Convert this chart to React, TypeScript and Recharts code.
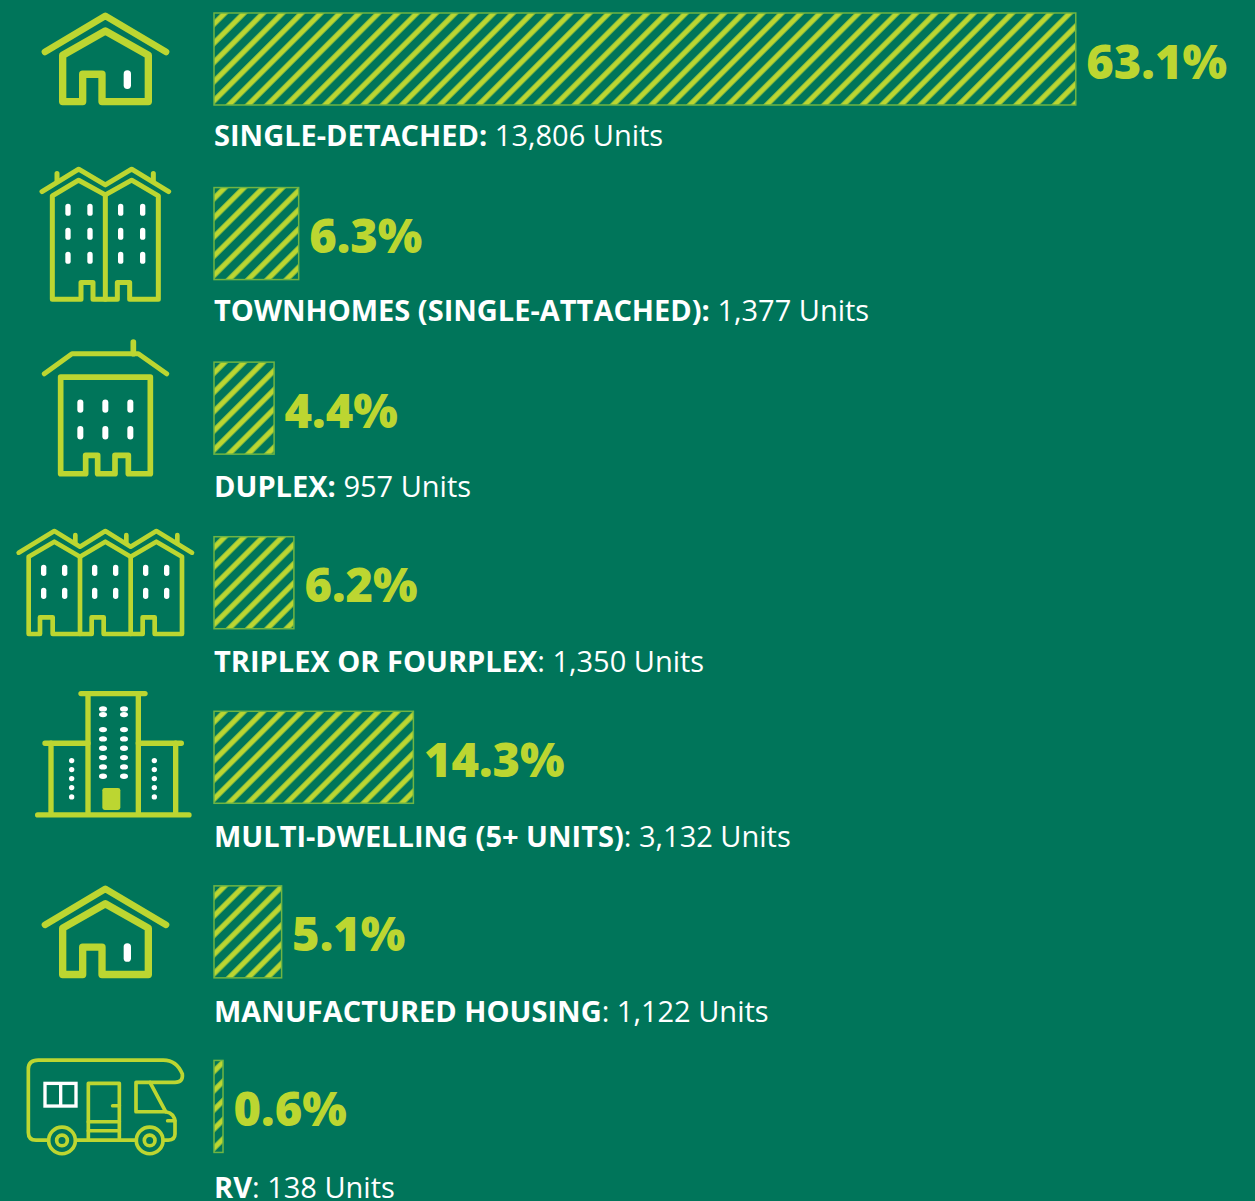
import { Bar, BarChart, LabelList, XAxis, YAxis } from "recharts";

const BG = "#00755a";
const LIME = "#bcd631";

const categories = [
  "SINGLE-DETACHED:",
  "TOWNHOMES (SINGLE-ATTACHED):",
  "DUPLEX:",
  "TRIPLEX OR FOURPLEX",
  "MULTI-DWELLING (5+ UNITS)",
  "MANUFACTURED HOUSING",
  "RV",
];
const unitTexts = [
  " 13,806 Units",
  " 1,377 Units",
  " 957 Units",
  ": 1,350 Units",
  ": 3,132 Units",
  ": 1,122 Units",
  ": 138 Units",
];
// printed percentages
const shares = ["63.1%", "6.3%", "4.4%", "6.2%", "14.3%", "5.1%", "0.6%"];
// drawn bar lengths, a bit off from the printed numbers in the original
const barLengths = [63.1, 6.2, 4.4, 5.85, 14.6, 4.95, 0.66];

const rows = categories.map((category, i) => ({
  category,
  units: unitTexts[i],
  share: shares[i],
  length: barLengths[i],
}));

const iconFont = { stroke: LIME, fill: "none", strokeLinecap: "round", strokeLinejoin: "round" } as const;

function Windows({ xs, ys, w, h }: { xs: number[]; ys: number[]; w: number; h: number }) {
  return (
    <g fill="#fff">
      {xs.flatMap((x) =>
        ys.map((y) => <rect key={`${x}-${y}`} x={x - w / 2} y={y} width={w} height={h} rx={w / 2} />)
      )}
    </g>
  );
}

// icons are drawn in 3x units, centred on the row through the tick position
function HouseIcon() {
  return (
    <g transform="translate(0,-177)">
      <g {...iconFont}>
        <path d="M135,155 L316,47 L498,155" strokeWidth={20} />
        <path
          d="M188,165 L316,92 L445,165 L445,304 L306,304 L306,222 L248,222 L248,304 L188,304 Z"
          strokeWidth={22}
        />
      </g>
      <Windows xs={[382]} ys={[210]} w={22} h={56} />
    </g>
  );
}

function TownhomeIcon() {
  return (
    <g transform="translate(0,-699)">
      <g {...iconFont} strokeWidth={15}>
        <path d="M126,572 L236,505 L316,552 L395,505 L506,572" />
        <path d="M171,518 L171,540 M460,518 L460,540" />
        <path d="M157,585 L236,538 L316,582 L395,538 L475,585 L475,895 L389,895 L389,845 L352,845 L352,895 L279,895 L279,845 L243,845 L243,895 L157,895 Z" />
        <path d="M316,582 L316,895" />
      </g>
      <Windows xs={[204, 270, 362, 428]} ys={[609, 681, 753]} w={16} h={36} />
    </g>
  );
}

function DuplexIcon() {
  return (
    <g transform="translate(0,-234)">
      <g {...iconFont} strokeWidth={15}>
        <path d="M133,130 L216,70 L415,70 L500,130" />
        <path d="M400,35 L400,70" strokeWidth={17} />
        <path
          d="M182,140 L451,140 L451,430 L385,430 L385,375 L345,375 L345,430 L293,430 L293,375 L257,375 L257,430 L182,430 Z"
          strokeWidth={17}
        />
      </g>
      <Windows xs={[241, 316, 391]} ys={[207, 287]} w={18} h={40} />
    </g>
  );
}

function TriplexIcon() {
  return (
    <g transform="translate(0,-759)">
      <g {...iconFont} strokeWidth={14}>
        <path d="M56,668 L163,603 L240,650 L316,603 L392,650 L469,603 L576,668" />
        <path d="M226,615 L226,640 M379,615 L379,640 M532,615 L532,640" />
        <path d="M86,680 L163,635 L240,680 L316,635 L392,680 L469,635 L546,680 L546,912 L464,912 L464,862 L428,862 L428,912 L311,912 L311,862 L275,862 L275,912 L158,912 L158,862 L120,862 L120,912 L86,912 Z" />
        <path d="M240,680 L240,912 M392,680 L392,912" />
      </g>
      <Windows xs={[131, 194, 284, 347, 437, 500]} ys={[704, 773]} w={16} h={34} />
    </g>
  );
}

function MultiIcon() {
  const towerYs = [85, 102, 147, 175, 203, 231, 259, 287];
  const sideYs = [240, 267, 294, 321, 349];
  return (
    <g transform="translate(0,-231)">
      <g {...iconFont} strokeWidth={16}>
        <path d="M243,39 L435,39" />
        <path d="M264,39 L264,395 M415,39 L415,395" />
        <path d="M135,188 L264,188 M415,188 L544,188" />
        <path d="M153,188 L153,395 M527,188 L527,395" />
        <path d="M113,403 L567,403" />
      </g>
      <rect x={307} y={322} width={54} height={66} rx={7} fill={LIME} />
      <g fill="#fff">
        {[309, 372].flatMap((x) =>
          towerYs.map((y) => <ellipse key={`${x}-${y}`} cx={x} cy={y} rx={12} ry={8} />)
        )}
        {[215, 463].flatMap((x) =>
          sideYs.map((y) => <circle key={`${x}-${y}`} cx={x} cy={y} r={8} />)
        )}
      </g>
    </g>
  );
}

function RvIcon() {
  return (
    <g transform="translate(0,-198)">
      <g {...iconFont} strokeWidth={11}>
        <path d="M145,298 L108,298 Q85,298 85,275 L85,85 Q85,58 115,58 L490,58 Q530,58 547,100 Q550,125 525,125 L408,125 L408,213 L497,213 Q525,218 525,245 L525,280 Q525,298 505,298 L490,298" />
        <path d="M228,298 L408,298" />
        <path d="M450,125 L497,213" />
        <path d="M503,240 L525,240" />
        <circle cx={186} cy={299} r={40} />
        <circle cx={186} cy={299} r={16} />
        <circle cx={449} cy={299} r={40} />
        <circle cx={449} cy={299} r={16} />
        <path d="M265,298 L265,128 L358,128 L358,298" />
        <path d="M265,243 L358,243 M265,270 L358,270" />
        <path d="M338,195 L358,195" />
      </g>
      <g fill="none" stroke="#fff" strokeWidth={10}>
        <rect x={135} y={128} width={93} height={68} />
        <path d="M182,128 L182,196" />
      </g>
    </g>
  );
}

const icons = [HouseIcon, TownhomeIcon, DuplexIcon, TriplexIcon, MultiIcon, HouseIcon, RvIcon];

function IconTick({ y, index }: any) {
  const Icon = icons[index];
  return (
    <g transform={`translate(0,${y}) scale(${1 / 3})`}>
      <Icon />
    </g>
  );
}

// every bar gets its own hatch, anchored on its top-left corner
function HatchBar({ x, y, width, height, index }: any) {
  const id = `hatch-${index}`;
  return (
    <g>
      <defs>
        <pattern
          id={id}
          patternUnits="userSpaceOnUse"
          width={13.58}
          height={13.58}
          patternTransform={`translate(${x},${y}) rotate(45)`}
        >
          <rect x={5.1} width={5.2} height={13.58} fill={LIME} />
        </pattern>
      </defs>
      <rect x={x} y={y} width={width} height={height} fill={`url(#${id})`} stroke="#6fb543" strokeWidth={1.5} />
    </g>
  );
}

function ShareLabel({ x, y, width, value }: any) {
  return (
    <text
      x={x + width + 10.5}
      y={y + 65.5}
      fill={LIME}
      fontFamily="'Open Sans', sans-serif"
      fontWeight={800}
      fontSize={47}
    >
      {value}
    </text>
  );
}

function DetailLabel({ x, y, index }: any) {
  return (
    <text
      x={x}
      y={y + 133 + index * 0.7}
      fill="#fff"
      fontFamily="'Open Sans', sans-serif"
      fontSize={29}
    >
      <tspan fontWeight={700}>{categories[index]}</tspan>
      <tspan fontWeight={400}>{unitTexts[index]}</tspan>
    </text>
  );
}

export default function App() {
  return (
    <div
      style={{
        position: "absolute",
        left: 0,
        top: 0,
        width: 1255,
        height: 1201,
        background: BG,
        overflow: "hidden",
      }}
    >
      <div style={{ position: "absolute", left: 0, top: -28 }}>
        {/* extra height below the last band keeps the RV line from being clipped */}
        <BarChart
          layout="vertical"
          width={1255}
          height={1242}
          data={rows}
          margin={{ top: 0, right: 85, bottom: 20, left: 0 }}
          barCategoryGap={0}
        >
          <XAxis type="number" domain={[0, 70]} hide />
          <YAxis
            type="category"
            dataKey="category"
            width={214}
            interval={0}
            axisLine={false}
            tickLine={false}
            tick={IconTick}
          />
          <Bar dataKey="length" barSize={92} shape={HatchBar} isAnimationActive={false}>
            <LabelList dataKey="share" content={ShareLabel} />
            <LabelList dataKey="units" content={DetailLabel} />
          </Bar>
        </BarChart>
      </div>
    </div>
  );
}
